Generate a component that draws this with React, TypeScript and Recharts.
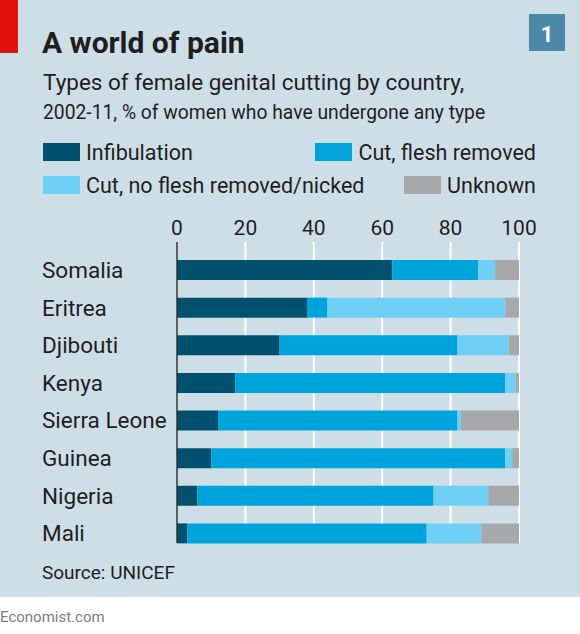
import { BarChart, Bar, XAxis, YAxis, CartesianGrid, Legend } from "recharts";

const COUNTRIES = ["Somalia", "Eritrea", "Djibouti", "Kenya", "Sierra Leone", "Guinea", "Nigeria", "Mali"];
const INFIBULATION = [63, 38, 30, 17, 12, 10, 6, 3];
const FLESH_REMOVED = [25, 6, 52, 79, 70, 86, 69, 70];
const NICKED = [5, 52, 15, 3, 1, 2, 16, 16];
const UNKNOWN = [7, 4, 3, 1, 17, 2, 9, 11];
const X_TICKS = [0, 20, 40, 60, 80, 100];

const SERIES = [
  { key: "infibulation", name: "Infibulation", color: "#00506e" },
  { key: "fleshRemoved", name: "Cut, flesh removed", color: "#00a4dc" },
  { key: "nicked", name: "Cut, no flesh removed/nicked", color: "#6fcff5" },
  { key: "unknown", name: "Unknown", color: "#a7a8ab" },
];

const data = COUNTRIES.map((country, i) => ({
  country,
  infibulation: INFIBULATION[i],
  fleshRemoved: FLESH_REMOVED[i],
  nicked: NICKED[i],
  unknown: UNKNOWN[i],
}));

const FONT = "Roboto, sans-serif";
const INK = "#1e1e1e";
const PANEL = "#cedee7";

const CountryTick = ({ y, payload }: any) => (
  <text x={42} y={y} dy="0.36em" fontSize={22.5} fill={INK} fontFamily={FONT}>
    {payload.value}
  </text>
);

// legend keeps the series order, two items per row
const LegendContent = ({ payload }: any) => {
  const items = SERIES.map((s) => {
    const hit = (payload || []).find((p: any) => p.value === s.name);
    return { name: s.name, color: hit ? hit.color : s.color };
  });
  const rows = [items.slice(0, 2), items.slice(2, 4)];
  return (
    <div style={{ fontFamily: FONT, fontSize: 21.5, color: INK }}>
      {rows.map((row, r) => (
        <div
          key={r}
          style={{
            display: "flex",
            justifyContent: "space-between",
            alignItems: "center",
            height: 18,
            marginBottom: 15,
          }}
        >
          {row.map((it) => (
            <div key={it.name} style={{ display: "flex", alignItems: "center", lineHeight: "18px" }}>
              <span style={{ display: "inline-block", width: 37, height: 18, background: it.color, marginRight: 6 }} />
              <span style={{ position: "relative", top: 1 }}>{it.name}</span>
            </div>
          ))}
        </div>
      ))}
    </div>
  );
};

export default function App() {
  return (
    <div style={{ position: "absolute", left: 0, top: 0, width: 580, height: 634, background: "#fff" }}>
      <svg width={580} height={634} style={{ position: "absolute", left: 0, top: 0 }}>
        <rect x={0} y={0} width={580} height={597} fill={PANEL} />
        <rect x={0} y={0} width={18} height={53} fill="#e3120b" />
        <text x={42} y={53} fontSize={30} fontWeight={700} fill={INK} fontFamily={FONT}>
          A world of pain
        </text>
        <text x={43} y={90} fontSize={22.5} fill={INK} fontFamily={FONT}>
          Types of female genital cutting by country,
        </text>
        <text x={43} y={119} fontSize={19.3} fill={INK} fontFamily={FONT}>
          2002-11, % of women who have undergone any type
        </text>
        <rect x={529} y={14} width={36} height={37} fill="#4a8aa8" />
        <text x={547} y={41.5} fontSize={22} fontWeight={700} fill="#fff" textAnchor="middle" fontFamily={FONT}>
          1
        </text>
        <text x={42} y={579} fontSize={19} fill={INK} fontFamily={FONT}>
          Source: UNICEF
        </text>
        <text x={0} y={621.5} fontSize={15} fill="#7d7d7d" fontFamily={FONT}>
          Economist.com
        </text>
      </svg>
      <div style={{ position: "absolute", left: 0, top: 0 }}>
        <BarChart
          width={580}
          height={597}
          data={data}
          layout="vertical"
          margin={{ top: 212, right: 61, bottom: 54, left: 42 }}
        >
          <CartesianGrid horizontal={false} stroke="#ffffff" strokeWidth={2} />
          <XAxis
            type="number"
            orientation="top"
            domain={[0, 100]}
            ticks={X_TICKS}
            height={30}
            axisLine={false}
            tickLine={false}
            tickSize={1}
            tickMargin={6}
            tick={{ fontSize: 21, fill: INK, fontFamily: FONT }}
          />
          <YAxis
            type="category"
            dataKey="country"
            width={135}
            padding={{ top: 9, bottom: -9 }}
            axisLine={{ stroke: "#2a2a2a", strokeWidth: 1.5 }}
            tickLine={false}
            tick={<CountryTick />}
          />
          <Legend
            layout="horizontal"
            verticalAlign="middle"
            align="center"
            wrapperStyle={{ top: 143, left: 43, width: 493, height: 60 }}
            content={<LegendContent />}
          />
          {SERIES.map((s) => (
            <Bar
              key={s.key}
              dataKey={s.key}
              name={s.name}
              stackId="a"
              fill={s.color}
              barSize={20}
              isAnimationActive={false}
            />
          ))}
        </BarChart>
      </div>
    </div>
  );
}
